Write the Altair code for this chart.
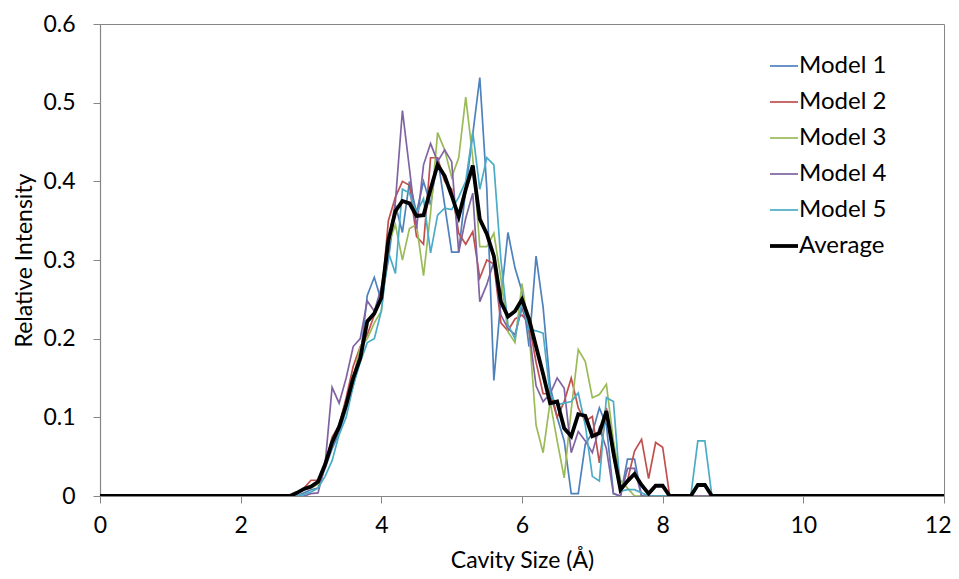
import altair as alt
import pandas as pd

# cavity size grid (Å)
cavity_size = [0.0, 2.5,
    2.6, 2.7, 2.8, 2.9, 3.0, 3.1, 3.2, 3.3, 3.4, 3.5,
    3.6, 3.7, 3.8, 3.9, 4.0, 4.1, 4.2, 4.3, 4.4, 4.5,
    4.6, 4.7, 4.8, 4.9, 5.0, 5.1, 5.2, 5.3, 5.4, 5.5,
    5.6, 5.7, 5.8, 5.9, 6.0, 6.1, 6.2, 6.3, 6.4, 6.5,
    6.6, 6.7, 6.8, 6.9, 7.0, 7.1, 7.2, 7.3, 7.4, 7.5,
    7.6, 7.7, 7.8, 7.9, 8.0, 8.1, 8.2, 8.3, 8.4, 8.5,
    8.6, 8.7, 8.8,
    8.9, 12.0]

model_1 = [0, 0,
    0, 0, 0, 0.004, 0.008, 0.01, 0.035, 0.06, 0.08, 0.11,
    0.14, 0.175, 0.255, 0.278, 0.248, 0.30, 0.37, 0.335, 0.40, 0.36,
    0.40, 0.37, 0.43, 0.37, 0.31, 0.31, 0.39, 0.46, 0.532, 0.39,
    0.147, 0.25, 0.335, 0.29, 0.26, 0.19, 0.305, 0.24, 0.14, 0.10,
    0.07, 0.003, 0.003, 0.066, 0.08, 0.112, 0.09, 0.003, 0, 0.047,
    0.047, 0, 0, 0, 0, 0, 0, 0, 0, 0,
    0, 0, 0,
    0, 0]

model_2 = [0, 0,
    0, 0, 0.003, 0.01, 0.02, 0.02, 0.04, 0.075, 0.09, 0.125,
    0.165, 0.19, 0.205, 0.23, 0.25, 0.35, 0.38, 0.40, 0.395, 0.33,
    0.32, 0.43, 0.43, 0.40, 0.39, 0.334, 0.32, 0.336, 0.277, 0.30,
    0.295, 0.22, 0.21, 0.225, 0.23, 0.22, 0.17, 0.13, 0.13, 0.10,
    0.12, 0.15, 0.112, 0.095, 0.101, 0.042, 0.112, 0.05, 0.005, 0.02,
    0.057, 0.072, 0.022, 0.068, 0.062, 0, 0, 0, 0, 0,
    0, 0, 0,
    0, 0]

model_3 = [0, 0,
    0, 0, 0.003, 0.008, 0.01, 0.015, 0.04, 0.065, 0.09, 0.12,
    0.15, 0.19, 0.20, 0.22, 0.235, 0.32, 0.345, 0.30, 0.34, 0.345,
    0.28, 0.36, 0.462, 0.44, 0.405, 0.43, 0.507, 0.43, 0.317, 0.317,
    0.334, 0.277, 0.209, 0.195, 0.27, 0.21, 0.09, 0.055, 0.12, 0.07,
    0.023, 0.11, 0.186, 0.171, 0.125, 0.129, 0.142, 0.07, 0.02, 0.01,
    0, 0, 0, 0, 0, 0, 0, 0, 0, 0,
    0, 0, 0,
    0, 0]

model_4 = [0, 0,
    0, 0, 0, 0, 0.003, 0.004, 0.04, 0.138, 0.118, 0.15,
    0.19, 0.20, 0.248, 0.235, 0.265, 0.32, 0.374, 0.49, 0.416, 0.34,
    0.421, 0.448, 0.425, 0.44, 0.425, 0.31, 0.353, 0.385, 0.247, 0.269,
    0.298, 0.23, 0.213, 0.205, 0.239, 0.21, 0.14, 0.12, 0.13, 0.15,
    0.137, 0.055, 0.082, 0.07, 0.055, 0.087, 0.06, 0.003, 0, 0.035,
    0.035, 0, 0, 0, 0, 0, 0, 0, 0, 0,
    0, 0, 0,
    0, 0]

model_5 = [0, 0,
    0, 0, 0, 0.002, 0.005, 0.01, 0.025, 0.045, 0.078, 0.10,
    0.14, 0.17, 0.195, 0.20, 0.235, 0.31, 0.283, 0.39, 0.385, 0.36,
    0.378, 0.309, 0.357, 0.366, 0.364, 0.38, 0.40, 0.463, 0.39, 0.43,
    0.421, 0.30, 0.218, 0.20, 0.247, 0.212, 0.21, 0.207, 0.129, 0.116,
    0.118, 0.12, 0.131, 0.09, 0.025, 0.019, 0.125, 0.12, 0.006, 0.008,
    0.008, 0.004, 0, 0, 0, 0, 0, 0, 0, 0.07,
    0.07, 0, 0,
    0, 0]

average = [0, 0,
    0, 0, 0.004, 0.009, 0.012, 0.018, 0.04, 0.068, 0.088, 0.116,
    0.15, 0.175, 0.222, 0.232, 0.252, 0.325, 0.362, 0.375, 0.372, 0.356,
    0.357, 0.39, 0.421, 0.407, 0.382, 0.355, 0.39, 0.42, 0.352, 0.333,
    0.305, 0.247, 0.228, 0.235, 0.25, 0.225, 0.19, 0.155, 0.118, 0.12,
    0.086, 0.076, 0.104, 0.102, 0.076, 0.08, 0.108, 0.055, 0.008, 0.019,
    0.028, 0.014, 0.003, 0.013, 0.013, 0, 0, 0, 0, 0.014,
    0.014, 0, 0,
    0, 0]

series_names = ["Model 1", "Model 2", "Model 3", "Model 4", "Model 5", "Average"]
series_colors = ["#4F81BD", "#C0504D", "#9BBB59", "#8064A2", "#4BACC6", "#000000"]
MODEL_W = 1.7
AVG_W = 3.8
x_ticks = [0, 2, 4, 6, 8, 10, 12]
y_ticks = [0, 0.1, 0.2, 0.3, 0.4, 0.5, 0.6]

rows = []
for name, vals in zip(series_names, [model_1, model_2, model_3, model_4, model_5, average]):
    for i, (xv, yv) in enumerate(zip(cavity_size, vals)):
        rows.append({"series": name, "x": xv, "y": yv, "idx": i})
df = pd.DataFrame(rows)

FONT = "Lato"
AX = "#868686"

legend = alt.Legend(
    title=None, orient="none", legendX=672, legendY=30,
    labelFont=FONT, labelFontSize=24, labelColor="#000000", labelOffset=3,
    symbolType="stroke", symbolSize=784, rowPadding=12, padding=0,
    symbolStrokeWidth={"expr": f"datum.label === 'Average' ? {AVG_W} : {MODEL_W}"},
)

color = alt.Color("series:N", scale=alt.Scale(domain=series_names, range=series_colors), legend=legend)

x = alt.X("x:Q", scale=alt.Scale(domain=[0, 12], nice=False),
          axis=alt.Axis(values=x_ticks, title="Cavity Size (Å)", grid=False,
                        labelFontSize=23, titleFontSize=23, labelPadding=11, titlePadding=12,
                        tickSize=7,
                        labelAlign=alt.condition("datum.value == 12", alt.value("right"), alt.value("center")),
                        labelOffset=alt.condition("datum.value == 12", alt.value(7), alt.value(0))))
y = alt.Y("y:Q", scale=alt.Scale(domain=[0, 0.6], nice=False),
          axis=alt.Axis(values=y_ticks, format=".1~f", title="Relative Intensity", grid=False,
                        labelFontSize=23, titleFontSize=23, labelPadding=18, titlePadding=6,
                        tickSize=7))

models = alt.Chart().mark_line(clip=True, strokeWidth=MODEL_W).encode(
    x=x, y=y, color=color, order="idx:Q"
).transform_filter(alt.datum.series != "Average")

avg = alt.Chart().mark_line(clip=True, strokeWidth=AVG_W, strokeJoin="miter").encode(
    x=x, y=y, color=color, order="idx:Q"
).transform_filter(alt.datum.series == "Average")

chart = alt.layer(models, avg, data=df).properties(
    width=844, height=472,
    padding={"left": 92, "top": 16, "right": 7, "bottom": 75},
    autosize=alt.AutoSizeParams(type="none"),
    background="white",
).configure_view(stroke=AX, strokeWidth=1).configure_axis(
    labelFont=FONT, titleFont=FONT, labelColor="#000000", titleColor="#000000",
    titleFontWeight="normal", domainColor=AX, tickColor=AX, domainWidth=1.2,
)

chart.save("out.html", embed_options={"renderer": "svg", "actions": False})
